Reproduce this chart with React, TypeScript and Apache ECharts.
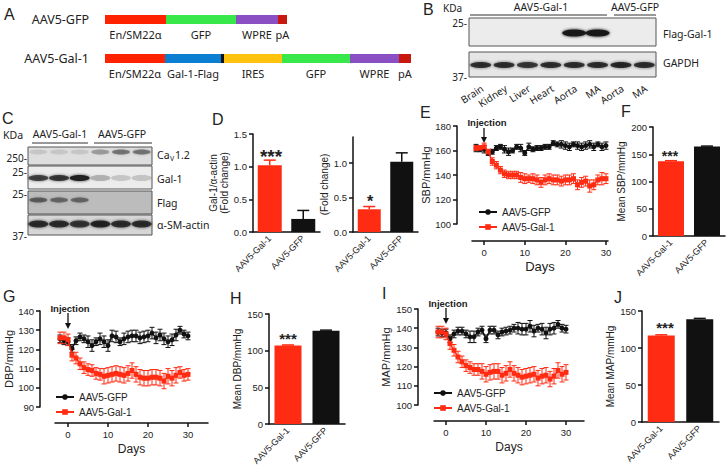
import React, { useEffect, useRef } from 'react';
import * as echarts from 'echarts';

// ---------------- Panel A: vector constructs (segment lengths, arbitrary units) ----------------
const constructs = ['AAV5-GFP', 'AAV5-Gal-1'];
const segmentNames = ['En/SM22α', 'Gal-1-Flag', 'Flag', 'IRES', 'GFP', 'WPRE', 'pA'];
const segEnSm22 = [61, 60];
const segGal1Flag = [0, 56];
const segFlagTag = [0, 3];
const segIres = [0, 58];
const segGfp = [70, 68];
const segWpre = [42, 49];
const segPa = [9, 12];
const segColors = ['#ff2200', '#0a7fd2', '#111111', '#ffc20e', '#38e84a', '#8b4fc4', '#c9180d'];
const segShowLabel = [true, true, false, true, true, true, true];

// ---------------- Panel B: western blot (band intensities 0..1) ----------------
const tissueLanes = ['Brain', 'Kidney', 'Liver', 'Heart', 'Aorta', 'MA', 'Aorta', 'MA'];
const flagGal1Band = [0, 0, 0, 0, 0.95, 0.95, 0, 0];
const gapdhBand = [0.8, 0.8, 0.75, 0.8, 0.8, 0.8, 0.85, 0.8];

// ---------------- Panel C: western blot (band intensities 0..1) ----------------
const cavBand = [0.1, 0.1, 0.1, 0.3, 0.45, 0.45];
const gal1Band = [0.7, 0.75, 0.9, 0.25, 0.15, 0.18];
const flagBand = [0.5, 0.45, 0.45, 0, 0, 0];
const smActinBand = [0.8, 0.8, 0.75, 0.85, 0.8, 0.8];

// ---------------- Bar panels ----------------
const groups = ['AAV5-Gal-1', 'AAV5-GFP'];
const gal1Fold = [1.02, 0.2];
const gal1FoldErr = [0.08, 0.13];
const cavFold = [0.33, 1.02];
const cavFoldErr = [0.04, 0.13];
const meanSbp = [137, 164];
const meanSbpErr = [1.2, 1.0];
const meanDbp = [107, 127];
const meanDbpErr = [0.8, 1.0];
const meanMap = [117, 139];
const meanMapErr = [0.8, 1.0];

// ---------------- Time courses ----------------
const days = [-2, -1, 0, 1, 2, 3, 4, 5, 6, 7, 8, 9, 10, 11, 12, 13, 14, 15, 16, 17, 18, 19, 20, 21, 22, 23, 24, 25, 26, 27, 28, 29, 30];
const sbpGfp = [162, 161, 161, 158, 159, 162, 163, 161, 159, 160, 163, 162, 158, 163, 161, 162, 162, 163, 163, 166, 165, 165, 164, 163, 165, 164, 163, 164, 165, 163, 165, 163, 164];
const sbpGfpErr = [3, 2, 3, 2, 2, 2, 2, 3, 3, 2, 2, 3, 2, 3, 2, 2, 2, 2, 2, 2, 2, 3, 3, 3, 2, 3, 3, 3, 3, 3, 2, 3, 3];
const sbpGal1 = [162, 162, 163, 159, 151, 148, 144, 141, 140, 140, 140, 138, 137, 137, 137, 136, 134, 136, 137, 136, 136, 135, 136, 136, 137, 132, 134, 135, 131, 132, 136, 137, 137];
const sbpGal1Err = [2, 2, 3, 2, 3, 3, 3, 3, 3, 3, 3, 4, 4, 3, 4, 4, 4, 4, 4, 4, 4, 4, 4, 4, 4, 4, 4, 4, 5, 4, 4, 5, 4];
const dbpGfp = [125.5, 124.5, 124, 120.5, 124.5, 126.5, 125.5, 124, 122, 124, 125.5, 124, 122, 127, 126.5, 124, 125.5, 126.5, 127, 127, 126, 126.5, 127, 128.5, 126, 127.5, 125.5, 124, 125, 127.5, 130, 128, 127];
const dbpGfpErr = [2, 2, 2, 2, 2, 2, 2, 3, 3, 2, 3, 3, 3, 3, 3, 2, 3, 3, 3, 3, 3, 3, 3, 3, 3, 3, 3, 3, 3, 3, 2, 2, 2];
const dbpGal1 = [126, 126, 125, 117, 115.5, 112.5, 110.5, 109.5, 109, 107.5, 107, 106, 106.5, 107, 107.5, 107, 106.5, 107.5, 109, 107, 105.5, 105, 105, 105.5, 105.5, 105, 103.5, 106, 105, 106.5, 108, 106.5, 107];
const dbpGal1Err = [3, 3, 3, 3, 3, 3, 3, 3, 3, 3, 3, 4, 4, 4, 4, 4, 4, 4, 4, 4, 4, 4, 4, 4, 4, 4, 4, 4, 4, 4, 3, 3, 3];
const mapGfp = [138, 137.5, 137.5, 134.5, 137, 138.5, 138.5, 137, 135.5, 135.5, 138, 139, 134.5, 139, 139, 136.5, 138, 138.5, 139, 140, 140, 139.5, 139.5, 141, 138.5, 140, 139.5, 137.5, 139.5, 140, 142, 140, 139.5];
const mapGfpErr = [2, 2, 2, 2, 2, 2, 2, 2, 3, 3, 2, 2, 2, 2, 2, 2, 2, 2, 2, 2, 3, 3, 3, 3, 3, 2, 3, 3, 3, 3, 2, 2, 2];
const mapGal1 = [138, 138, 137, 132, 128.5, 125, 122.5, 120.5, 119.5, 118.5, 118.5, 117.5, 116, 117, 117.5, 117.5, 115.5, 116.5, 118.5, 116.5, 115.5, 114.5, 115, 115.5, 116, 114, 115, 115.5, 113.5, 115, 118, 116, 117];
const mapGal1Err = [3, 3, 3, 3, 3, 3, 3, 3, 3, 3, 3, 4, 4, 4, 4, 4, 4, 4, 4, 4, 4, 4, 4, 4, 4, 4, 4, 4, 4, 4, 4, 4, 4];
const dayTicks = [0, 10, 20, 30];

const FONT = '"Liberation Sans", Arial, Helvetica, sans-serif';
const SANS = '"Noto Sans", "Open Sans", sans-serif';
const RED = '#ff2b12';
const BLACK = '#111111';
const TXT = '#222222';
const AXIS_LINE = { color: '#111', width: 1.5 };

function txt(x: number, y: number, text: string, o: any = {}) {
  return {
    type: 'text', x, y, silent: true, rotation: o.rotation || 0,
    style: {
      text, fontSize: o.fontSize || 11, fontFamily: o.fontFamily || SANS, fill: o.fill || TXT,
      fontWeight: o.fontWeight || 'normal', align: o.align || 'left', verticalAlign: o.verticalAlign || 'middle',
    },
  };
}
function ln(x1: number, y1: number, x2: number, y2: number, color = '#222', w = 1) {
  return { type: 'line', silent: true, shape: { x1, y1, x2, y2 }, style: { stroke: color, lineWidth: w } };
}
function box(x: number, y: number, w: number, h: number, fill: string) {
  return { type: 'rect', silent: true, shape: { x, y, width: w, height: h }, style: { fill, stroke: '#555', lineWidth: 1 } };
}
function bands(x0: number, laneW: number, cy: number, rx: number, ry: number, vals: number[]) {
  const out: any[] = [];
  vals.forEach((a, i) => {
    if (a <= 0) return;
    const c = `rgba(25,25,25,${a})`;
    out.push({
      type: 'ellipse', silent: true,
      shape: { cx: x0 + laneW * (i + 0.5), cy, rx, ry },
      style: { fill: c, shadowBlur: 3, shadowColor: c },
    });
  });
  return out;
}

const timeErrRender = (params: any, api: any) => {
  const x = api.value(0);
  const lo = api.coord([x, api.value(1)]);
  const hi = api.coord([x, api.value(2)]);
  const style = { stroke: api.visual('color'), lineWidth: 1 };
  return {
    type: 'group',
    children: [
      { type: 'line', shape: { x1: lo[0], y1: lo[1], x2: hi[0], y2: hi[1] }, style },
      { type: 'line', shape: { x1: lo[0] - 2.5, y1: lo[1], x2: lo[0] + 2.5, y2: lo[1] }, style },
      { type: 'line', shape: { x1: hi[0] - 2.5, y1: hi[1], x2: hi[0] + 2.5, y2: hi[1] }, style },
    ],
  };
};
const barErrRender = (capHalf: number) => (params: any, api: any) => {
  const i = api.value(0);
  const base = api.coord([i, api.value(1)]);
  const top = api.coord([i, api.value(2)]);
  const style = { stroke: params.dataIndex === 0 ? RED : BLACK, lineWidth: 1.5 };
  return {
    type: 'group',
    children: [
      { type: 'line', shape: { x1: base[0], y1: base[1], x2: top[0], y2: top[1] }, style },
      { type: 'line', shape: { x1: top[0] - capHalf, y1: top[1], x2: top[0] + capHalf, y2: top[1] }, style },
    ],
  };
};

function buildOption() {
  const grid: any[] = [];
  const xAxis: any[] = [];
  const yAxis: any[] = [];
  const series: any[] = [];
  const legend: any[] = [];
  const g: any[] = [];

  // ---------- Panel A ----------
  grid.push({ left: 105, top: -8, width: 310, height: 86 });
  xAxis.push({ type: 'value', gridIndex: 0, min: 0, max: 310, show: false });
  yAxis.push({
    type: 'category', gridIndex: 0, data: constructs, inverse: true,
    axisLine: { show: false }, axisTick: { show: false }, splitLine: { show: false },
    axisLabel: { fontSize: 12.5, color: TXT, fontFamily: SANS, margin: 16 },
  });
  const segData = [segEnSm22, segGal1Flag, segFlagTag, segIres, segGfp, segWpre, segPa];
  segData.forEach((d, i) => {
    series.push({
      type: 'bar', name: segmentNames[i], xAxisIndex: 0, yAxisIndex: 0, stack: 'vector', barWidth: 9,
      data: d, itemStyle: { color: segColors[i] }, silent: true,
      label: {
        show: segShowLabel[i], position: 'bottom', distance: 5, fontSize: 11, fontFamily: SANS, color: TXT,
        formatter: (p: any) => (p.value > 0 ? segmentNames[i] : ''),
      },
    });
  });

  // ---------- bar panels ----------
  function addBarPanel(c: any) {
    const gi = grid.length;
    grid.push({ left: c.left, top: c.top, width: c.width, height: c.height });
    xAxis.push({
      type: 'category', gridIndex: gi, data: groups,
      axisLine: { lineStyle: AXIS_LINE }, axisTick: { show: false },
      axisLabel: { rotate: 45, interval: 0, fontSize: 9, color: TXT, fontFamily: FONT, margin: 5 },
    });
    const yLabel: any = { fontSize: 9.5, color: TXT, fontFamily: FONT, margin: 6 };
    const yTick: any = { show: true, length: 4, lineStyle: AXIS_LINE };
    if (c.fmt) yLabel.formatter = c.fmt;
    if (c.custom) { yLabel.customValues = c.custom; yTick.customValues = c.custom; }
    yAxis.push({
      type: 'value', gridIndex: gi, min: 0, max: c.max, interval: c.interval,
      name: c.name, nameLocation: 'middle', nameGap: c.nameGap, nameRotate: 90,
      nameTextStyle: { fontSize: 10, color: TXT, fontFamily: FONT, lineHeight: 11 },
      axisLine: { show: true, lineStyle: AXIS_LINE }, axisTick: yTick, splitLine: { show: false }, axisLabel: yLabel,
    });
    series.push({
      type: 'bar', name: 'bar' + gi, xAxisIndex: gi, yAxisIndex: gi, barWidth: c.barWidth, silent: true,
      data: c.values.map((v: number, i: number) => ({ value: v, itemStyle: { color: i === 0 ? RED : BLACK } })),
    });
    series.push({
      type: 'custom', name: 'barErr' + gi, xAxisIndex: gi, yAxisIndex: gi, silent: true, z: 1,
      data: c.values.map((v: number, i: number) => [i, v, v + c.errs[i]]),
      encode: { x: 0, y: [1, 2] }, renderItem: barErrRender(c.cap),
    });
  }
  const fmt1 = (v: number) => v.toFixed(1);
  addBarPanel({ left: 253, top: 134, width: 67, height: 98, max: 1.5, interval: 0.5, fmt: fmt1, name: 'Gal-1/α-actin\n(Fold change)', nameGap: 21, barWidth: 24, cap: 6, values: gal1Fold, errs: gal1FoldErr });
  addBarPanel({ left: 353, top: 137, width: 65, height: 95, max: 1.38, interval: 0.5, fmt: fmt1, custom: [0, 0.5, 1], name: '(Fold change)', nameGap: 19, barWidth: 23, cap: 6, values: cavFold, errs: cavFoldErr });
  addBarPanel({ left: 653, top: 127, width: 72, height: 109, max: 200, interval: 50, name: 'Mean SBP/mmHg', nameGap: 23, barWidth: 26, cap: 6, values: meanSbp, errs: meanSbpErr });
  addBarPanel({ left: 269, top: 314, width: 76, height: 110, max: 150, interval: 50, name: 'Mean DBP/mmHg', nameGap: 20, barWidth: 27, cap: 6, values: meanDbp, errs: meanDbpErr });
  addBarPanel({ left: 642, top: 311, width: 77, height: 111, max: 150, interval: 50, name: 'Mean MAP/mmHg', nameGap: 18, barWidth: 27, cap: 6, values: meanMap, errs: meanMapErr });

  // ---------- time panels ----------
  function addTimePanel(c: any) {
    const gi = grid.length;
    grid.push({ left: c.left, top: c.top, width: c.width, height: c.height });
    xAxis.push({
      type: 'value', gridIndex: gi, min: c.xmin, max: c.xmax, offset: c.xOffset,
      name: 'Days', nameLocation: 'middle', nameGap: c.daysGap,
      nameTextStyle: { fontSize: c.daysSize, color: TXT, fontFamily: FONT },
      axisLine: { show: true, onZero: false, lineStyle: AXIS_LINE },
      axisTick: { show: true, length: 4, lineStyle: AXIS_LINE, customValues: dayTicks },
      axisLabel: { customValues: dayTicks, fontSize: 9.5, color: TXT, fontFamily: FONT, margin: 6 },
      splitLine: { show: false },
    });
    yAxis.push({
      type: 'value', gridIndex: gi, min: c.ymin, max: c.ymax, interval: c.yint, offset: c.yOffset,
      name: c.yName, nameLocation: 'middle', nameGap: c.nameGap, nameRotate: 90,
      nameTextStyle: { fontSize: 11, color: TXT, fontFamily: FONT },
      axisLine: { show: true, onZero: false, lineStyle: AXIS_LINE },
      axisTick: { show: true, length: 4, lineStyle: AXIS_LINE },
      axisLabel: { fontSize: 9.5, color: TXT, fontFamily: FONT, margin: 6 },
      splitLine: { show: false },
    });
    const mk = (vals: number[], errs: number[]) => days.map((d, i) => [d, vals[i] - errs[i], vals[i] + errs[i]]);
    series.push({ type: 'custom', name: 'gfpErr' + gi, xAxisIndex: gi, yAxisIndex: gi, silent: true, itemStyle: { color: BLACK }, data: mk(c.gfp, c.gfpErr), encode: { x: 0, y: [1, 2] }, renderItem: timeErrRender, z: 2 });
    series.push({ type: 'custom', name: 'gal1Err' + gi, xAxisIndex: gi, yAxisIndex: gi, silent: true, itemStyle: { color: RED }, data: mk(c.gal1, c.gal1Err), encode: { x: 0, y: [1, 2] }, renderItem: timeErrRender, z: 2 });
    series.push({
      type: 'line', name: 'AAV5-GFP', xAxisIndex: gi, yAxisIndex: gi, silent: true, z: 3,
      data: days.map((d, i) => [d, c.gfp[i]]), symbol: 'circle', symbolSize: 5, showAllSymbol: true,
      itemStyle: { color: BLACK }, lineStyle: { color: BLACK, width: 1.5 },
    });
    series.push({
      type: 'line', name: 'AAV5-Gal-1', xAxisIndex: gi, yAxisIndex: gi, silent: true, z: 4,
      data: days.map((d, i) => [d, c.gal1[i]]), symbol: 'rect', symbolSize: 5, showAllSymbol: true,
      itemStyle: { color: RED }, lineStyle: { color: RED, width: 1.5 },
    });
    legend.push({
      left: c.legLeft, top: c.legTop, orient: 'vertical', padding: 0, itemGap: 5, itemWidth: 18, itemHeight: 7,
      selectedMode: false, data: ['AAV5-GFP', 'AAV5-Gal-1'],
      textStyle: { fontSize: 10, color: TXT, fontFamily: FONT },
    });
    // injection annotation
    g.push(txt(c.injX, c.injY, 'Injection', { fontFamily: FONT, fontSize: 9.5, fontWeight: 'bold', align: 'center' }));
    g.push(ln(c.arrowX, c.arrowY1, c.arrowX, c.arrowY2 - 4, '#111', 1.3));
    g.push({ type: 'polygon', silent: true, shape: { points: [[c.arrowX - 3, c.arrowY2 - 6], [c.arrowX + 3, c.arrowY2 - 6], [c.arrowX, c.arrowY2]] }, style: { fill: '#111' } });
  }
  addTimePanel({ left: 472, top: 126, width: 136, height: 98, xmin: -3, xmax: 30.5, ymin: 100, ymax: 180, yint: 20, yOffset: 15, xOffset: 17, yName: 'SBP/mmHg', nameGap: 25, daysGap: 19, daysSize: 13, gfp: sbpGfp, gfpErr: sbpGfpErr, gal1: sbpGal1, gal1Err: sbpGal1Err, legLeft: 478, legTop: 207, injX: 487, injY: 122, arrowX: 484, arrowY1: 128, arrowY2: 143 });
  addTimePanel({ left: 55, top: 311, width: 153, height: 96, xmin: -3.25, xmax: 35, ymin: 90, ymax: 140, yint: 10, yOffset: 15, xOffset: 16, yName: 'DBP/mmHg', nameGap: 25, daysGap: 20, daysSize: 12, gfp: dbpGfp, gfpErr: dbpGfpErr, gal1: dbpGal1, gal1Err: dbpGal1Err, legLeft: 55, legTop: 392, injX: 70, injY: 308, arrowX: 68, arrowY1: 313, arrowY2: 329 });
  addTimePanel({ left: 434, top: 309, width: 150, height: 96, xmin: -3, xmax: 34.5, ymin: 100, ymax: 150, yint: 10, yOffset: 16, xOffset: 16, yName: 'MAP/mmHg', nameGap: 27, daysGap: 20, daysSize: 12, gfp: mapGfp, gfpErr: mapGfpErr, gal1: mapGal1, gal1Err: mapGal1Err, legLeft: 433, legTop: 388, injX: 448, injY: 303, arrowX: 446, arrowY1: 308, arrowY2: 324 });

  // ---------- panel letters ----------
  const letters: [string, number, number][] = [
    ['A', 4, 14], ['B', 423, 9], ['C', 2, 118], ['D', 212, 119], ['E', 420, 112],
    ['F', 621, 111], ['G', 3, 296], ['H', 230, 298], ['I', 382, 293], ['J', 614, 297],
  ];
  letters.forEach(([t, x, y]) => g.push(txt(x, y, t, { fontFamily: FONT, fontSize: 16 })));

  // ---------- panel B blot ----------
  const bX0 = 469, bW = 187, bLane = bW / 8;
  g.push(txt(443, 8, 'KDa', { fontSize: 10 }));
  g.push(txt(541, 7, 'AAV5-Gal-1', { fontSize: 10.5, align: 'center' }));
  g.push(txt(635, 7, 'AAV5-GFP', { fontSize: 10.5, align: 'center' }));
  g.push(ln(470, 15, 607, 15, '#333', 1));
  g.push(ln(614, 15, 656, 15, '#333', 1));
  g.push(box(bX0, 18, bW, 28, '#ececec'));
  g.push(...bands(bX0, bLane, 33, 12, 3.5, flagGal1Band));
  g.push(box(bX0, 52, bW, 25, '#e6e6e6'));
  g.push(...bands(bX0, bLane, 65, 10.5, 3, gapdhBand));
  g.push(txt(467, 23, '25-', { fontSize: 10, align: 'right' }));
  g.push(txt(467, 77, '37-', { fontSize: 10, align: 'right' }));
  g.push(txt(663, 34, 'Flag-Gal-1', { fontSize: 10.5 }));
  g.push(txt(663, 63, 'GAPDH', { fontSize: 10.5 }));
  tissueLanes.forEach((t, i) => {
    g.push(txt(bX0 + bLane * (i + 0.5) - 1, 83, t, { fontSize: 10, align: 'right', verticalAlign: 'top', rotation: Math.PI / 5.5 }));
  });

  // ---------- panel C blot ----------
  const cX0 = 28, cW = 124, cLane = cW / 6;
  g.push(txt(3, 135, 'KDa', { fontSize: 10.5 }));
  g.push(txt(60, 134, 'AAV5-Gal-1', { fontSize: 10.5, align: 'center' }));
  g.push(txt(122, 134, 'AAV5-GFP', { fontSize: 10.5, align: 'center' }));
  g.push(ln(32, 143, 88, 143, '#333', 1));
  g.push(ln(94, 143, 152, 143, '#333', 1));
  g.push(box(cX0, 147, cW, 18, '#dedede'));
  g.push(...bands(cX0, cLane, 152, 9, 2.5, cavBand));
  g.push(box(cX0, 166, cW, 23, '#ececec'));
  g.push(...bands(cX0, cLane, 178, 10, 3, gal1Band));
  g.push(box(cX0, 191, cW, 23, '#bcbcbc'));
  g.push(...bands(cX0, cLane, 200, 9, 2.5, flagBand));
  g.push(box(cX0, 215, cW, 20, '#d6d6d6'));
  g.push(...bands(cX0, cLane, 224, 10, 3.5, smActinBand));
  g.push(txt(157, 155, 'Ca', { fontSize: 10.5 }));
  g.push(txt(170, 158, 'V', { fontSize: 7 }));
  g.push(txt(175, 155, '1.2', { fontSize: 10.5 }));
  g.push(txt(157, 179, 'Gal-1', { fontSize: 10.5 }));
  g.push(txt(157, 203, 'Flag', { fontSize: 10.5 }));
  g.push(txt(157, 225, 'α-SM-actin', { fontSize: 10.5 }));
  g.push(txt(27, 158, '250-', { fontSize: 10, align: 'right' }));
  g.push(txt(27, 172, '25-', { fontSize: 10, align: 'right' }));
  g.push(txt(27, 194, '25-', { fontSize: 10, align: 'right' }));
  g.push(txt(27, 236, '37-', { fontSize: 10, align: 'right' }));

  // ---------- significance marks ----------
  g.push(txt(271, 156, '***', { fontFamily: FONT, fontSize: 19, fontWeight: 'bold', align: 'center' }));
  g.push(txt(370, 201, '*', { fontFamily: FONT, fontSize: 16, fontWeight: 'bold', align: 'center' }));
  g.push(txt(670, 156, '***', { fontFamily: FONT, fontSize: 14, fontWeight: 'bold', align: 'center' }));
  g.push(txt(288, 338, '***', { fontFamily: FONT, fontSize: 15, fontWeight: 'bold', align: 'center' }));
  g.push(txt(665, 327, '***', { fontFamily: FONT, fontSize: 15, fontWeight: 'bold', align: 'center' }));

  return {
    animation: false,
    backgroundColor: '#ffffff',
    textStyle: { fontFamily: FONT },
    grid, xAxis, yAxis, series, legend,
    graphic: { elements: g },
  };
}

export default function App() {
  const ref = useRef<HTMLDivElement>(null);
  useEffect(() => {
    if (!ref.current) return;
    const chart = echarts.init(ref.current, null, { renderer: 'svg' });
    chart.setOption(buildOption() as any);
    return () => chart.dispose();
  }, []);
  return (
    <div
      ref={ref}
      style={{ position: 'fixed', left: 0, top: 0, width: 728, height: 476, background: '#fff' }}
    />
  );
}
